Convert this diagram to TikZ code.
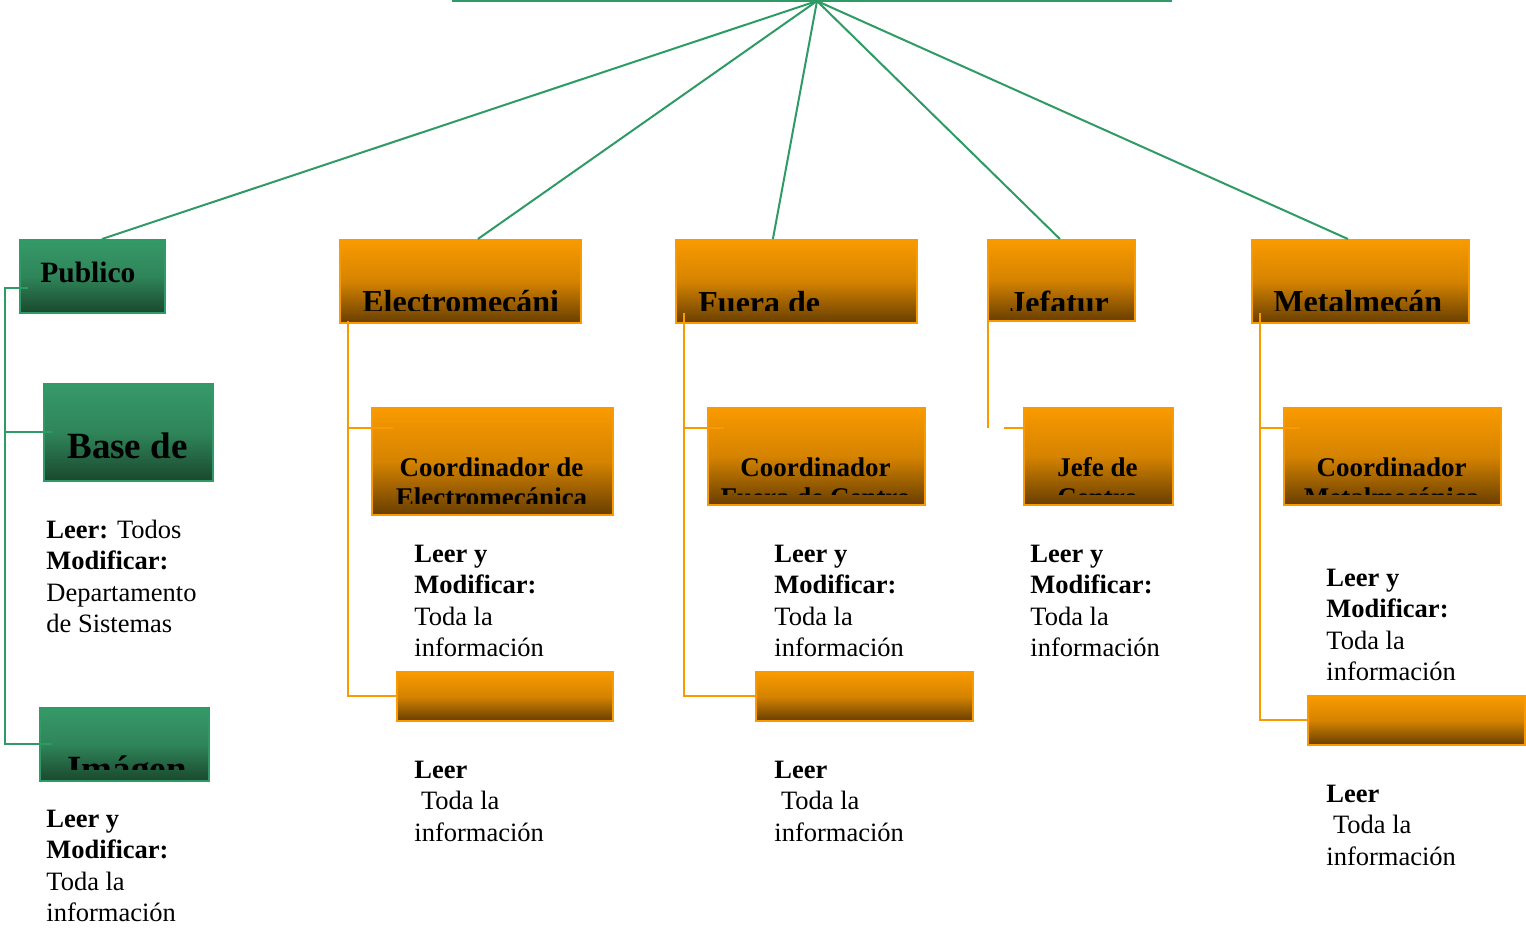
\documentclass[tikz,border=0pt]{standalone}
\usepackage{fontspec}
\setmainfont{Liberation Serif}
\usetikzlibrary{positioning}

\definecolor{verde}{RGB}{46,154,101}
\definecolor{gtop}{RGB}{54,153,104}
\definecolor{gbot}{RGB}{26,72,46}
\definecolor{naranja}{RGB}{249,155,0}
\definecolor{otop}{RGB}{249,154,0}
\definecolor{obot}{RGB}{104,62,0}

\newcommand{\lineas}[1]{\begin{tabular}[t]{@{}l@{}}#1\end{tabular}}

\begin{document}
\begin{tikzpicture}[x=0.5pt, y=-0.5pt,
    gbox/.style={draw=verde, line width=0.9pt, top color=gtop, bottom color=gbot,
      middle color=gtop!75!gbot, anchor=north west, inner sep=0pt},
    obox/.style={draw=naranja, line width=0.9pt, top color=otop, bottom color=obot,
      middle color=otop!75!obot, anchor=north west, inner sep=0pt},
    gline/.style={draw=verde, line width=1pt},
    oline/.style={draw=naranja, line width=1pt},
    ttl/.style={anchor=base west, inner sep=0pt, font=\bfseries\fontsize{16}{19}\selectfont},
    big/.style={anchor=base west, inner sep=0pt, font=\bfseries\fontsize{18.5}{22}\selectfont},
    sub/.style={anchor=base, inner sep=0pt, font=\bfseries\fontsize{13.5}{16}\selectfont},
    txt/.style={anchor=base west, inner sep=0pt, font=\fontsize{13.25}{15.75}\selectfont}]

  \useasboundingbox (0,0) rectangle (1526,927);

  % cajas
  \node[gbox, minimum width=72.5pt, minimum height=36.5pt] (publico) at (19,239) {};
  \node[gbox, minimum width=84.5pt, minimum height=48.5pt] (base) at (43,383) {};
  \node[gbox, minimum width=84.5pt, minimum height=36.5pt] (imagen) at (39,707) {};
  \node[obox, minimum width=120.5pt, minimum height=41.5pt] (electro) at (339,239) {};
  \node[obox, minimum width=120.5pt, minimum height=41.5pt] (fuera) at (675,239) {};
  \node[obox, minimum width=73.5pt, minimum height=40.5pt] (jefatura) at (987,239) {};
  \node[obox, minimum width=108.5pt, minimum height=41.5pt] (metal) at (1251,239) {};
  \node[obox, minimum width=120.5pt, minimum height=53.5pt] (coordE) at (371,407) {};
  \node[obox, minimum width=108.5pt, minimum height=48.5pt] (coordF) at (707,407) {};
  \node[obox, minimum width=74.5pt, minimum height=48.5pt] (jefeC) at (1023,407) {};
  \node[obox, minimum width=108.5pt, minimum height=48.5pt] (coordM) at (1283,407) {};
  \node[obox, minimum width=108pt, minimum height=24.5pt] (auxE) at (396,671) {};
  \node[obox, minimum width=108.5pt, minimum height=24.5pt] (auxF) at (755,671) {};
  \node[obox, minimum width=108.5pt, minimum height=24.5pt] (auxM) at (1307,695) {};

  % textos de las cajas (cortados como en el original)
  \node[ttl, font=\bfseries\fontsize{14.75}{18}\selectfont] (tPublico) at (40,282) {Publico};
  \node[big] (tBase) at (67,458) {Base de};
  \begin{scope}
    \clip (imagen.north west) rectangle ([yshift=6pt]imagen.south east);
    \node[big] (tImagen) at (67,781) {Imágen};
  \end{scope}
  \begin{scope}
    \clip (electro.north west) rectangle ([yshift=6.5pt]electro.south east);
    \node[ttl] (tElectro) at (362,312) {Electromecáni};
  \end{scope}
  \begin{scope}
    \clip (fuera.north west) rectangle ([yshift=6.5pt]fuera.south east);
    \node[ttl] (tFuera) at (698,313) {Fuera de};
  \end{scope}
  \begin{scope}
    \clip (jefatura.north west) rectangle ([yshift=5.5pt]jefatura.south east);
    \node[ttl] (tJefatura) at (1009,313) {Jefatur};
  \end{scope}
  \begin{scope}
    \clip (metal.north west) rectangle ([yshift=6.5pt]metal.south east);
    \node[ttl] (tMetal) at (1273,312) {Metalmecán};
  \end{scope}
  \begin{scope}
    \clip (coordE.north west) rectangle ([yshift=6pt]coordE.south east);
    \node[sub] (tCoordE) at (491.5,476) {Coordinador de};
    \node[sub] (tCoordE2) at (491.5,506) {Electromecánica};
  \end{scope}
  \begin{scope}
    \clip (coordF.north west) rectangle ([yshift=5.5pt]coordF.south east);
    \node[sub] (tCoordF) at (815.5,476) {Coordinador};
    \node[sub] (tCoordF2) at (815.5,506) {Fuera de Centro};
  \end{scope}
  \begin{scope}
    \clip (jefeC.north west) rectangle ([yshift=5.5pt]jefeC.south east);
    \node[sub] (tJefeC) at (1097.5,476) {Jefe de};
    \node[sub] (tJefeC2) at (1097.5,506) {Centro};
  \end{scope}
  \begin{scope}
    \clip (coordM.north west) rectangle ([yshift=5.5pt]coordM.south east);
    \node[sub] (tCoordM) at (1391.5,476) {Coordinador};
    \node[sub] (tCoordM2) at (1391.5,506) {Metalmecánica};
  \end{scope}

  % permisos
  \node[txt] (pPublico) at (46,538) {\lineas{\textbf{Leer:} Todos\\ \textbf{Modificar:}\\ Departamento\\ de Sistemas}};
  \node[txt] (pImagen) at (46,827) {\lineas{\textbf{Leer y}\\ \textbf{Modificar:}\\ Toda la\\ información}};
  \node[txt] (pCoordE) at (414,562) {\lineas{\textbf{Leer y}\\ \textbf{Modificar:}\\ Toda la\\ información}};
  \node[txt] (pAuxE) at (414,778) {\lineas{\textbf{Leer}\\ \ Toda la\\ información}};
  \node[txt] (pCoordF) at (774,562) {\lineas{\textbf{Leer y}\\ \textbf{Modificar:}\\ Toda la\\ información}};
  \node[txt] (pAuxF) at (774,778) {\lineas{\textbf{Leer}\\ \ Toda la\\ información}};
  \node[txt] (pJefeC) at (1030,562) {\lineas{\textbf{Leer y}\\ \textbf{Modificar:}\\ Toda la\\ información}};
  \node[txt] (pCoordM) at (1326,586) {\lineas{\textbf{Leer y}\\ \textbf{Modificar:}\\ Toda la\\ información}};
  \node[txt] (pAuxM) at (1326,802) {\lineas{\textbf{Leer}\\ \ Toda la\\ información}};

  % raiz
  \coordinate (raiz) at (817,1);
  \coordinate (raizL) at (452,1);
  \coordinate (raizR) at (1172,1);
  \draw[gline] (raizL) -- (raizR);
  \draw[gline] (raiz) -- ([xshift=4.75pt]publico.north);
  \draw[gline] (raiz) -- ([xshift=8.75pt]electro.north);
  \draw[gline] (raiz) -- ([xshift=-11.75pt]fuera.north);
  \draw[gline] (raiz) -- ([xshift=-0.75pt]jefatura.north);
  \draw[gline] (raiz) -- ([xshift=-6.25pt]metal.north);

  % ramas
  \draw[gline] ([xshift=4.5pt,yshift=-6pt]publico.west) -| ([xshift=-17pt]imagen.west)
    -- ([xshift=6.5pt]imagen.west);
  \draw[gline] ([xshift=-19pt]base.west) -- ([xshift=4.5pt]base.west);

  \draw[oline] ([xshift=4.5pt,yshift=1.5pt]electro.south west) |- ([xshift=11pt,yshift=-10.5pt]coordE.north west);
  \draw[oline] ([xshift=4.5pt,yshift=1.5pt]electro.south west) |- (auxE.west);

  \draw[oline] ([xshift=4.5pt,yshift=5.5pt]fuera.south west) |- ([xshift=8.5pt,yshift=-10.5pt]coordF.north west);
  \draw[oline] ([xshift=4.5pt,yshift=5.5pt]fuera.south west) |- (auxF.west);

  \coordinate (esquinaJ) at (988,428);
  \draw[oline] ([xshift=0.5pt]jefatura.south west) -- (esquinaJ);
  \draw[oline] ([xshift=8pt]esquinaJ) -- (jefeC.west |- esquinaJ);

  \draw[oline] ([xshift=4.5pt,yshift=5.5pt]metal.south west) |- ([xshift=8.5pt,yshift=-10.5pt]coordM.north west);
  \draw[oline] ([xshift=4.5pt,yshift=5.5pt]metal.south west) |- (auxM.west);
\end{tikzpicture}
\end{document}
